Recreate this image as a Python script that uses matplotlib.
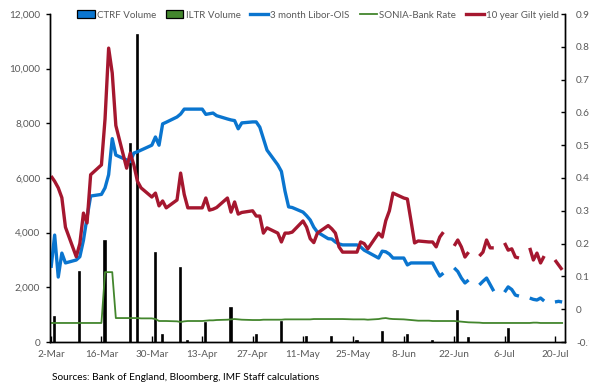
import numpy as np
import pandas as pd
import matplotlib
matplotlib.use("Agg")
import matplotlib.pyplot as plt
from matplotlib.patches import Patch
from matplotlib.lines import Line2D

plt.rcParams['font.family'] = ['Lato', 'DejaVu Sans']

# business days shown on the chart
bdays = pd.bdate_range('2020-03-02', '2020-07-22')

# 3 month Libor-OIS (pp), one row per week
libor_ois = [
    0.126, 0.226, 0.098, 0.171, 0.141,
    0.150, 0.160, 0.210, 0.280, 0.345,
    0.350, 0.370, 0.410, 0.520, 0.470,
    0.455, 0.450, 0.476, 0.480, 0.485,
    0.500, 0.525, 0.500, 0.565, 0.570,
    0.586, 0.595, 0.610, 0.610, 0.610,
    0.610, 0.594, 0.596, 0.598, 0.590,
    0.580, 0.577, 0.575, 0.550, 0.568,
    0.571, 0.571, 0.555, 0.520, 0.485,
    0.440, 0.420, 0.360, 0.312, 0.310,
    0.296, 0.285, 0.272, 0.250, 0.235,
    0.215, 0.214, 0.205, 0.199, 0.196,
    0.196, 0.196, 0.190, 0.180, 0.174,
    0.156, 0.177, 0.175, 0.168, 0.156,
    0.156, 0.135, 0.141, 0.141, 0.141,
    0.141, 0.141, 0.120, 0.101, 0.110,
    0.126, 0.115, 0.095, 0.080, 0.089,
    0.074, 0.085, 0.095, 0.075, 0.055,
    0.052, 0.068, 0.060, 0.043, 0.040,
    0.034, 0.030, 0.028, 0.034, 0.025,
    0.022, 0.024, 0.022,
]

# 10 year Gilt yield (%)
gilt_10y = [
    0.406, 0.390, 0.370, 0.340, 0.250,
    0.160, 0.200, 0.293, 0.263, 0.410,
    0.440, 0.580, 0.796, 0.720, 0.560,
    0.430, 0.476, 0.440, 0.390, 0.370,
    0.342, 0.354, 0.315, 0.330, 0.309,
    0.333, 0.415, 0.350, 0.309, 0.309,
    0.309, 0.339, 0.302, 0.305, 0.310,
    0.339, 0.296, 0.327, 0.290, 0.295,
    0.300, 0.284, 0.284, 0.232, 0.248,
    0.232, 0.205, 0.232, 0.232, 0.235,
    0.269, 0.250, 0.215, 0.203, 0.232,
    0.255, 0.245, 0.232, 0.190, 0.174,
    0.174, 0.174, 0.205, 0.200, 0.184,
    0.232, 0.220, 0.270, 0.300, 0.354,
    0.339, 0.336, 0.270, 0.202, 0.208,
    0.205, 0.205, 0.190, 0.220, 0.235,
    0.193, 0.211, 0.190, 0.159, 0.174,
    0.162, 0.174, 0.211, 0.187, 0.187,
    0.202, 0.180, 0.184, 0.159, 0.156,
    0.187, 0.150, 0.171, 0.141, 0.162,
    0.150, 0.135, 0.120,
]

# SONIA minus Bank Rate (pp)
sonia_spread = [
    -0.042, -0.042, -0.042, -0.042, -0.042,
    -0.042, -0.042, -0.042, -0.042, -0.042,
    -0.042, 0.113, 0.113, 0.113, -0.027,
    -0.027, -0.027, -0.027, -0.027, -0.028,
    -0.028, -0.030, -0.036, -0.036, -0.036,
    -0.037, -0.039, -0.037, -0.036, -0.036,
    -0.036, -0.035, -0.034, -0.034, -0.033,
    -0.032, -0.031, -0.030, -0.031, -0.032,
    -0.033, -0.033, -0.033, -0.032, -0.032,
    -0.032, -0.032, -0.031, -0.031, -0.031,
    -0.031, -0.031, -0.031, -0.030, -0.030,
    -0.030, -0.030, -0.030, -0.030, -0.030,
    -0.031, -0.031, -0.031, -0.031, -0.032,
    -0.030, -0.028, -0.027, -0.029, -0.030,
    -0.031, -0.032, -0.033, -0.034, -0.035,
    -0.035, -0.036, -0.036, -0.036, -0.036,
    -0.036, -0.037, -0.038, -0.039, -0.040,
    -0.041, -0.042, -0.042, -0.042, -0.042,
    -0.042, -0.042, -0.042, -0.042, -0.042,
    -0.042, -0.041, -0.041, -0.042, -0.042,
    -0.042, -0.042, -0.042,
]

# operation volumes (GBP mn)
ctrf_dates = ['2020-03-26', '2020-04-02', '2020-04-09', '2020-06-26']
ctrf_volume = [11230, 260, 40, 150]
iltr_dates = ['2020-03-03', '2020-03-10', '2020-03-17', '2020-03-24', '2020-03-31',
              '2020-04-07', '2020-04-14', '2020-04-21', '2020-04-28', '2020-05-05',
              '2020-05-12', '2020-05-19', '2020-05-26', '2020-06-02', '2020-06-09',
              '2020-06-16', '2020-06-23', '2020-07-07']
iltr_volume = [920, 2560, 3700, 7230, 3260, 2720, 700, 1240, 260, 730,
               200, 200, 40, 370, 260, 40, 1130, 470]

tick_dates = pd.date_range('2020-03-02', '2020-07-20', freq='14D')


def gapped(values):
    # weekends are left blank from late June onwards
    s = pd.Series(values, index=bdays)
    sats = pd.date_range('2020-06-20', '2020-07-22', freq='W-SAT')
    s = pd.concat([s, pd.Series(np.nan, index=sats)]).sort_index()
    return s


blue = '#0A75CF'
green = '#43862D'
red = '#A5172F'
grey = '#595959'

fig = plt.figure(figsize=(5.89, 3.88), dpi=100)
ax = fig.add_axes([50 / 589, 1 - 342 / 388, 515 / 589, 328 / 388])
ax2 = ax.twinx()

ax.bar(pd.to_datetime(ctrf_dates), ctrf_volume, width=0.35, color='black',
       edgecolor='black', linewidth=1.2)
ax.bar(pd.to_datetime(iltr_dates), iltr_volume, width=0.35, color='black',
       edgecolor='black', linewidth=1.2)

s = gapped(libor_ois)
ax2.plot(s.index, s.values, color=blue, lw=2.4, solid_capstyle='butt')
ax2.plot(bdays, sonia_spread, color=green, lw=1.3)
s = gapped(gilt_10y)
ax2.plot(s.index, s.values, color=red, lw=2.4, solid_capstyle='butt')

ax.set_xlim(pd.Timestamp('2020-03-01 17:00'), pd.Timestamp('2020-07-22 19:00'))
ax.set_ylim(0, 12000)
ax2.set_ylim(-0.1, 0.9)

ax.set_yticks(range(0, 12001, 2000))
ax.set_yticklabels([f'{v:,}' for v in range(0, 12001, 2000)])
ax2.set_yticks(np.arange(-0.1, 0.91, 0.1))
ax2.set_yticklabels(['-0.1', '0'] + [f'{v / 10:.1f}' for v in range(1, 10)])
ax.set_xticks(tick_dates)
ax.set_xticklabels([f'{d.day}-{d:%b}' for d in tick_dates])

for a in (ax, ax2):
    a.spines['top'].set_visible(False)
    for sp in a.spines.values():
        sp.set_linewidth(1.0)
ax.tick_params(axis='x', direction='in', length=4, width=1, colors='black',
               labelcolor=grey, labelsize=7.2, pad=6)
ax.tick_params(axis='y', direction='out', length=3, width=1, labelcolor=grey,
               labelsize=7.2, pad=4)
ax2.tick_params(axis='y', direction='in', length=3, width=1, labelcolor=grey,
                labelsize=7.2, pad=8)

handles = [
    Patch(facecolor=blue, edgecolor='black', linewidth=0.9),
    Patch(facecolor=green, edgecolor='black', linewidth=0.9),
    Line2D([], [], color=blue, lw=2.4),
    Line2D([], [], color=green, lw=1.3),
    Line2D([], [], color=red, lw=2.4),
]
labels = ['CTRF Volume', 'ILTR Volume', '3 month Libor-OIS', 'SONIA-Bank Rate',
          '10 year Gilt yield']
leg = fig.legend(handles, labels, ncol=5, loc='center',
                 bbox_to_anchor=(318 / 589, 1 - 15 / 388), frameon=False,
                 fontsize=7.0, handlelength=1.8, handleheight=0.8,
                 handletextpad=0.25, columnspacing=1.0, borderpad=0)
for t in leg.get_texts():
    t.set_color(grey)

fig.text(52 / 589, 1 - 378 / 388, 'Sources: Bank of England, Bloomberg, IMF Staff calculations',
         fontsize=7.3, va='center', ha='left', color='black')

fig.savefig('out.png', dpi=100)
